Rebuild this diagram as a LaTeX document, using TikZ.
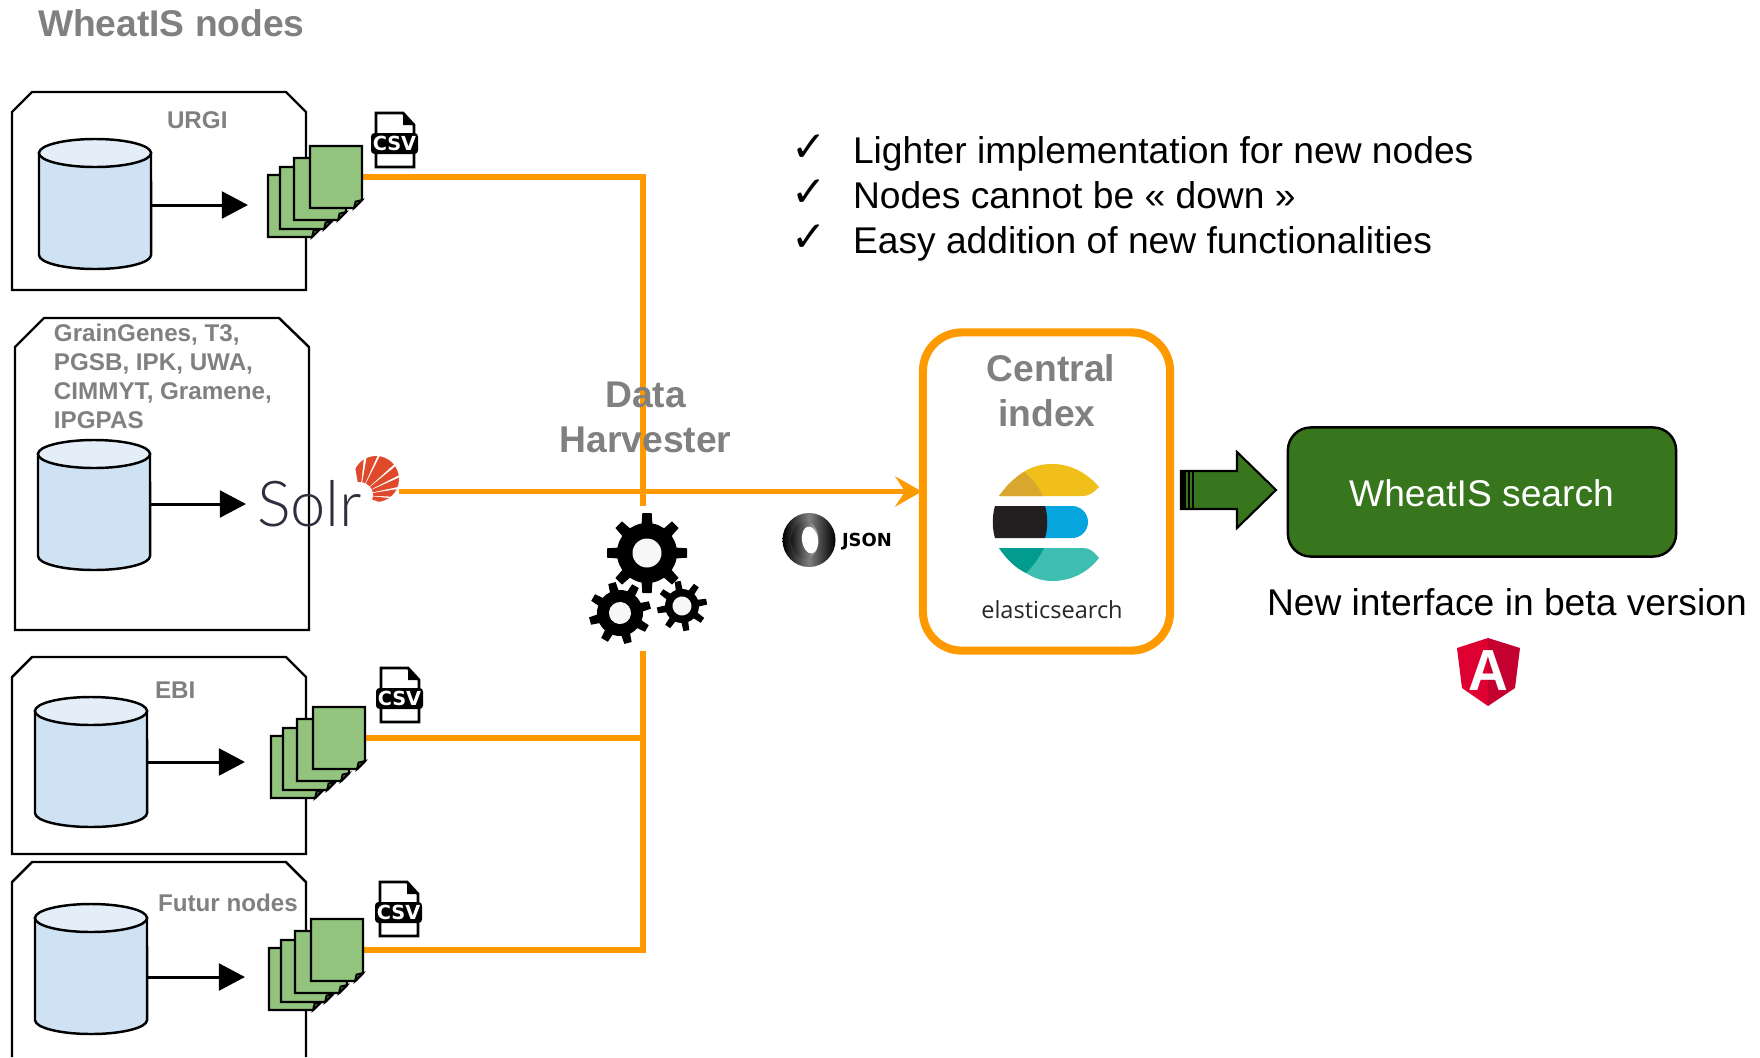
\documentclass[tikz,border=0pt]{standalone}
\usepackage{fontspec}
\usepackage{tikz}
\usetikzlibrary{arrows.meta}
\setmainfont{Liberation Sans}
\newfontfamily\symfont{DejaVu Sans}
\newfontfamily\solrfont{Lato Light}
\newfontfamily\elasticfont{Open Sans}

\definecolor{labelgray}{HTML}{808080}
\definecolor{harvestorange}{HTML}{FF9900}
\definecolor{dbblue}{HTML}{CFE2F3}
\definecolor{dbtop}{HTML}{E3EEF8}
\definecolor{docgreen}{HTML}{93C47D}
\definecolor{searchgreen}{HTML}{38761D}
\definecolor{solrred}{HTML}{DE4A2B}
\definecolor{solrink}{HTML}{2E2E3F}
\definecolor{elasticyellow}{HTML}{F0BF1A}
\definecolor{elasticgold}{HTML}{D9A62E}
\definecolor{elasticblue}{HTML}{07A5DE}
\definecolor{elasticblack}{HTML}{231F20}
\definecolor{elasticteal}{HTML}{3EBEB0}
\definecolor{elasticdeep}{HTML}{019B8F}
\definecolor{angularleft}{HTML}{DD0031}
\definecolor{angularright}{HTML}{C3002F}

\tikzset{
    nodeframe/.style={draw=black, line width=0.7pt, line join=miter},
    dbshape/.style={draw=black, line width=0.7pt},
    docpage/.style={draw=black, line width=0.7pt, fill=docgreen, line join=miter},
    feedarrow/.style={line width=0.85pt, -{Triangle[length=7.4pt,width=7.6pt]}},
    harvestline/.style={draw=harvestorange, line width=1.7pt, line join=miter},
    txt/.style={inner sep=0pt, outer sep=0pt},
    graysmall/.style={txt, text=labelgray, font=\fontsize{6.88pt}{8.3pt}\selectfont\bfseries},
    graybig/.style={txt, text=labelgray, font=\fontsize{10.58pt}{12.8pt}\selectfont\bfseries},
    blacktext/.style={txt, font=\fontsize{10.58pt}{12.8pt}\selectfont},
}

% cylinder: name, left x, y of the top ellipse
\newcommand{\dbcylinder}[3]{
    \begin{scope}[shift={(#2,#3)}]
        \filldraw[dbshape, fill=dbblue] (0,0) -- (0,102)
            arc[start angle=180, end angle=360, x radius=.56cm, y radius=.14cm]
            -- (112,0) -- cycle;
        \filldraw[dbshape, fill=dbtop] (56,0) ellipse[x radius=.56cm, y radius=.14cm];
        \coordinate (#1) at (113,52);
    \end{scope}
}

% stack of four pages: name, shift
\newcommand{\docstack}[3]{
    \begin{scope}[shift={(#2,#3)}]
        \foreach \ox/\oy in {268/175,280/167,294/158,310/146} {
            \filldraw[docpage] (\ox,\oy) -- ++(52,0) -- ++(0,54) -- ++(-8,8) -- ++(-44,0) -- cycle;
            \filldraw[draw=black, line width=0.5pt, fill=docgreen!50!black] (\ox+52,\oy+54) -- (\ox+44,\oy+62) -- (\ox+45.5,\oy+55.5) -- cycle;
        }
        \coordinate (#1) at (362,177);
    \end{scope}
}

% csv file icon: name, shift
\newcommand{\csvicon}[3]{
    \begin{scope}[shift={(#2,#3)}]
        \filldraw[draw=black, line width=0.8pt, fill=white] (376,113) -- (403,113) -- (414,125) -- (414,167) -- (376,167) -- cycle;
        \fill[black] (403,113) -- (414,125) -- (403,125) -- cycle;
        \fill[black, rounded corners=1pt] (371,133) rectangle (418,154);
        \node[txt, text=white, font=\fontsize{5.5pt}{7pt}\selectfont\symfont\bfseries] (#1) at (394.5,143.5) {CSV};
    \end{scope}
}

% gear: x, y, rotation, body radius, outer radius, hole radius, half tooth
\newcommand{\gearwheel}[7]{
    \begin{scope}[shift={(#1,#2)}, rotate=#3]
        \fill[black] (0,0) circle (#4);
        \foreach \a in {0,45,...,315} {
            \fill[black, rotate=\a] (#4-2,-#7) -- (#5,-#7*0.85) -- (#5,#7*0.85) -- (#4-2,#7) -- cycle;
        }
        \fill[black!3] (0,0) circle (#6);
    \end{scope}
}

\begin{document}
\begin{tikzpicture}[x=0.01cm, y=-0.01cm]
    \useasboundingbox (0,0) rectangle (1760,1057);

    \node[graybig, anchor=base west] (title) at (38,36) {WheatIS nodes};

    % Draw node frames
    \draw[nodeframe] (12,112) -- (32,92) -- (286,92) -- (306,112) -- (306,290) -- (12,290) -- cycle;
    \draw[nodeframe] (15,347) -- (44,318) -- (279,318) -- (309,347) -- (309,630) -- (15,630) -- cycle;
    \draw[nodeframe] (12,677) -- (32,657) -- (286,657) -- (306,677) -- (306,854) -- (12,854) -- cycle;
    \draw[nodeframe] (12,1057) -- (12,882) -- (32,862) -- (286,862) -- (306,882) -- (306,1057);

    % Add frame labels
    \node[graysmall, anchor=base west] (urgi_label) at (167,128) {URGI};
    \node[graysmall, anchor=north west, align=left] (solr_label) at (54,323.5)
        {GrainGenes, T3,\\PGSB, IPK, UWA,\\CIMMYT, Gramene,\\IPGPAS};
    \node[graysmall, anchor=base west] (ebi_label) at (155,698) {EBI};
    \node[graysmall, anchor=base west] (futur_label) at (158,911) {Futur nodes};

    % Draw databases
    \dbcylinder{urgi_db}{39}{153}
    \dbcylinder{solr_db}{38}{454}
    \dbcylinder{ebi_db}{35}{711}
    \dbcylinder{futur_db}{35}{918}

    % Draw orange lines
    \coordinate (trunk_top) at (643,177);
    \coordinate (trunk_gear_up) at (643,506);
    \coordinate (trunk_gear_down) at (643,651);
    \coordinate (trunk_bottom) at (643,950);
    \coordinate (trunk_ebi) at (643,738);
    \coordinate (solr_out) at (399,491.5);
    \coordinate (urgi_docs_out) at (362,177);
    \coordinate (ebi_docs_out) at (365,738);
    \coordinate (futur_docs_out) at (363,950);

    \draw[harvestline] (urgi_docs_out) -- (trunk_top) -- (trunk_gear_up);
    \draw[harvestline] (ebi_docs_out) -- (trunk_ebi);
    \draw[harvestline] (futur_docs_out) -- (trunk_bottom) -- (trunk_gear_down);

    % Draw page stacks
    \docstack{urgi_docs}{0}{0}
    \docstack{ebi_docs}{3}{561}
    \docstack{futur_docs}{1}{773}

    \csvicon{urgi_csv}{0}{0}
    \csvicon{ebi_csv}{5}{555}
    \csvicon{futur_csv}{4}{769}

    % Draw feeds
    \coordinate (urgi_in) at (248,205);
    \coordinate (solr_in) at (246,504);
    \coordinate (ebi_in) at (245,762);
    \coordinate (futur_in) at (245,977);
    \draw[feedarrow] (urgi_db |- urgi_in) -- (urgi_in);
    \draw[feedarrow] (solr_db |- solr_in) -- (solr_in);
    \draw[feedarrow] (ebi_db |- ebi_in) -- (ebi_in);
    \draw[feedarrow] (futur_db |- futur_in) -- (futur_in);

    % Solr logo
    \node[txt, anchor=base west, text=solrink, font=\fontsize{18pt}{20pt}\selectfont\solrfont] (solr_word) at (257,526) {Solr};
    \begin{scope}
        \clip (376,479) circle (23);
        \begin{scope}[shift={(360,495)}, yscale=-1]
            \foreach \a/\b in {84/100,66/80,42/63,27/39,12/24,-3/9,-20/-6} {
                \fill[solrred] (\a:13) -- (\a:60) -- (\b:60) -- (\b:13) -- cycle;
            }
        \end{scope}
    \end{scope}

    % Data harvester
    \node[graybig, anchor=north, align=center] (harvester) at (645.5,382) {Data\\Harvester};
    \gearwheel{647}{553}{0}{30}{40}{14.5}{5.5}
    \gearwheel{620}{613}{15}{23}{31}{11}{4.5}
    \gearwheel{682}{606}{10}{17}{25}{9.5}{3.5}

    % JSON logo
    \shade[left color=black, right color=black, middle color=black!50] (809,540) ellipse[x radius=.265cm, y radius=.27cm];
    \shade[left color=black!90, right color=black!30] (805,540) ellipse[x radius=.135cm, y radius=.19cm];
    \fill[white, rotate around={8:(810,540)}] (810,540) ellipse[x radius=.08cm, y radius=.135cm];
    \node[txt, anchor=base west, font=\fontsize{5.1pt}{6pt}\selectfont\symfont\bfseries] (json) at (842,546) {JSON};

    % Central index
    \node[draw=harvestorange, line width=2.3pt, rounded corners=11pt, minimum width=2.47cm, minimum height=3.18cm, inner sep=0pt, outer sep=0pt] (central_box) at (1046.5,491.5) {};
    \draw[harvestline, shorten >=0.3pt, -{Stealth[length=7.6pt,width=8.6pt,inset=2.8pt]}] (solr_out) -- (central_box.west);
    \node[graybig, anchor=base] (central_word) at (1051,381) {Central};
    \node[graybig, anchor=base] (index_word) at (1047,426) {index};

    % Elastic logo
    \fill[elasticyellow] (999,496) .. controls (1015,475) and (1030,464) .. (1052,464) .. controls (1072,464) and (1088,474) .. (1099,487) .. controls (1094,492) and (1090,496) .. (1083,496) -- cycle;
    \fill[elasticgold] (999,496) .. controls (1006,486) and (1014,478) .. (1024,472) .. controls (1032,478) and (1038,486) .. (1043,496) -- cycle;
    \fill[elasticblue] (1045,506) -- (1072,506) arc[start angle=90, end angle=-90, radius=.16cm] -- (1045,538) -- cycle;
    \fill[elasticblack] (995,506) -- (1045,506) .. controls (1048,516) and (1048,528) .. (1045,538) -- (995,538) .. controls (992,528) and (992,516) .. (995,506) -- cycle;
    \fill[elasticteal] (999,548) -- (1083,548) .. controls (1090,548) and (1094,552) .. (1099,558) .. controls (1088,572) and (1072,581) .. (1052,581) .. controls (1042,581) and (1034,578) .. (1026,573) .. controls (1014,567) and (1006,558) .. (999,548) -- cycle;
    \fill[elasticdeep] (999,548) -- (1044,548) .. controls (1039,558) and (1033,566) .. (1026,573) .. controls (1014,567) and (1006,558) .. (999,548) -- cycle;
    \node[txt, anchor=base, text=black!85, font=\fontsize{6.7pt}{9pt}\selectfont\elasticfont] (elastic_word) at (1052,618) {elasticsearch};

    % Block arrow
    \filldraw[draw=black, line width=0.6pt, fill=searchgreen, line join=miter] (1181,471) -- (1237,471) -- (1237,452) -- (1276,490) -- (1237,528) -- (1237,509) -- (1181,509) -- cycle;
    \fill[black] (1181,471) rectangle (1186,509);
    \draw[black, line width=0.4pt] (1189,471) -- (1189,509);
    \draw[black, line width=0.4pt] (1193,471) -- (1193,509);

    % WheatIS search
    \node[draw=black, line width=0.7pt, fill=searchgreen, rounded corners=6.5pt, minimum width=3.88cm, minimum height=1.29cm, inner sep=0pt, outer sep=0pt] (search_box) at (1482,492) {};
    \node[blacktext, anchor=base, text=white] (search_word) at (1481.5,506) {WheatIS search};
    \node[blacktext, anchor=base west] (beta_word) at (1267,615) {New interface in beta version};

    % Angular logo
    \fill[angularleft] (1488,638) -- (1457,648) -- (1462,688) -- (1488,706) -- cycle;
    \fill[angularright] (1488,638) -- (1520,648) -- (1515,688) -- (1488,706) -- cycle;
    \node[txt, text=white, xscale=0.95, font=\fontsize{16.5pt}{20pt}\selectfont\bfseries, anchor=base] (angular_word) at (1488.5,690) {A};

    % Add the list
    \foreach \n/\ybase/\txt in {1/163/Lighter implementation for new nodes,2/208/Nodes cannot be « down »,3/253/Easy addition of new functionalities} {
        \node[txt, anchor=base west, font=\fontsize{12pt}{12pt}\selectfont\symfont] (check_\n) at (791,\ybase-2) {✓};
        \node[blacktext, anchor=base west] (point_\n) at (853,\ybase) {\txt};
    }
\end{tikzpicture}
\end{document}
